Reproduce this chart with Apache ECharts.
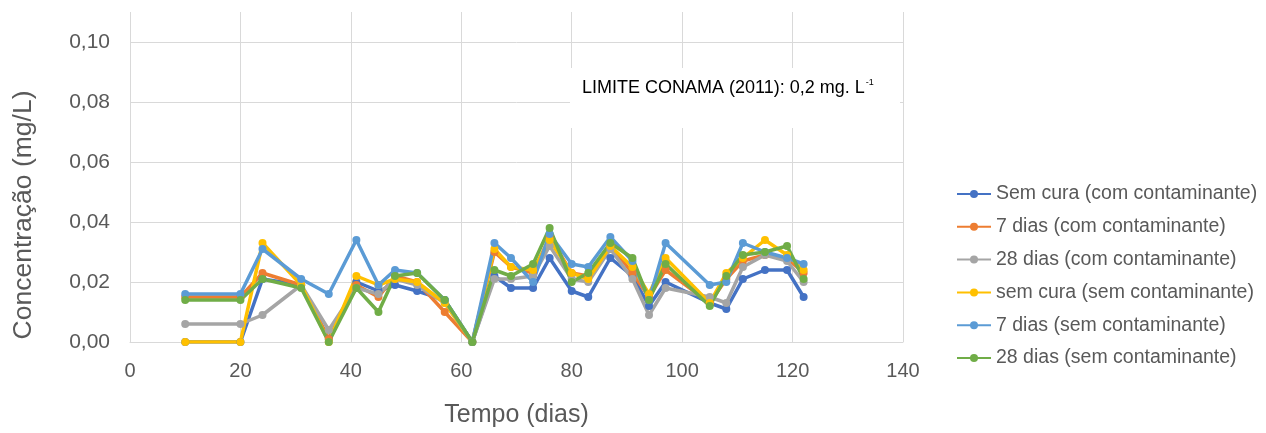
<!DOCTYPE html>
<html>
<head>
<meta charset="utf-8">
<script src="https://cdn.jsdelivr.net/npm/echarts@6/dist/echarts.min.js"></script>
<style>
html,body{margin:0;padding:0;background:#fff;}
#chart{width:1266px;height:433px;}
</style>
</head>
<body>
<div id="chart"></div>
<script>
// Days (x values)
const days = [10,20,24,31,36,41,45,48,52,57,62,66,69,73,76,80,83,87,91,94,97,105,108,111,115,119,122];

// Series values (mg/L)
const semCuraCom   = [0,0,0.021,0.019,0.001,0.020,0.017,0.019,0.017,0.014,0,0.022,0.018,0.018,0.028,0.017,0.015,0.028,0.022,0.012,0.020,0.013,0.011,0.021,0.024,0.024,0.015];
const seteDiasCom  = [0.015,0.015,0.023,0.019,0.001,0.019,0.015,0.022,0.020,0.010,0,0.030,0.025,0.023,0.035,0.023,0.022,0.032,0.023,0.015,0.024,0.013,0.021,0.027,0.029,0.028,0.023];
const vinteOitoCom = [0.006,0.006,0.009,0.019,0.004,0.018,0.016,0.021,0.019,0.013,0,0.021,0.021,0.022,0.032,0.021,0.020,0.031,0.021,0.009,0.018,0.015,0.013,0.025,0.029,0.027,0.020];
const semCuraSem   = [0,0,0.033,0.019,0,0.022,0.019,0.021,0.020,0.013,0,0.031,0.025,0.024,0.034,0.023,0.021,0.032,0.025,0.016,0.028,0.013,0.023,0.028,0.034,0.029,0.024];
const seteDiasSem  = [0.016,0.016,0.031,0.021,0.016,0.034,0.019,0.024,0.023,0.014,0,0.033,0.028,0.020,0.036,0.026,0.025,0.035,0.027,0.014,0.033,0.019,0.020,0.033,0.030,0.028,0.026];
const vinteOitoSem = [0.014,0.014,0.021,0.018,0,0.018,0.010,0.022,0.023,0.014,0,0.024,0.022,0.026,0.038,0.020,0.023,0.033,0.028,0.014,0.026,0.012,0.022,0.029,0.030,0.032,0.021];

const seriesNames = [
  'Sem cura (com contaminante)',
  '7 dias (com contaminante)',
  '28 dias (com contaminante)',
  'sem cura (sem contaminante)',
  '7 dias (sem contaminante)',
  '28 dias (sem contaminante)'
];
const seriesValues = [semCuraCom, seteDiasCom, vinteOitoCom, semCuraSem, seteDiasSem, vinteOitoSem];
const colors = ['#4472C4','#ED7D31','#A5A5A5','#FFC000','#5B9BD5','#70AD47'];

const xTicks = {min: 0, max: 140, interval: 20};
const yTicks = {min: 0, max: 0.11, interval: 0.02};

const xTitle = 'Tempo (dias)';
const yTitle = 'Concentração (mg/L)';
const annotation = 'LIMITE CONAMA (2011): 0,2 mg. L';

const FONT = '"Liberation Sans", Arial, sans-serif';
const chart = echarts.init(document.getElementById('chart'));

const series = seriesNames.map((name, i) => ({
  name: name,
  type: 'line',
  data: days.map((d, j) => [d, seriesValues[i][j]]),
  symbol: 'circle',
  symbolSize: 8,
  showAllSymbol: true,
  lineStyle: {width: 3.5, color: colors[i]},
  itemStyle: {color: colors[i]},
  emphasis: {disabled: true},
  animation: false
}));

chart.setOption({
  animation: false,
  textStyle: {fontFamily: FONT},
  grid: {left: 130, right: 363, top: 12, bottom: 90, containLabel: false},
  xAxis: {
    type: 'value',
    min: xTicks.min, max: xTicks.max, interval: xTicks.interval,
    name: xTitle,
    nameLocation: 'middle',
    nameGap: 61,
    nameTextStyle: {fontSize: 25, color: '#595959', fontFamily: FONT},
    axisLine: {show: true, lineStyle: {color: '#D9D9D9', width: 1}},
    axisTick: {show: false},
    axisLabel: {fontSize: 20, color: '#595959', margin: 19, fontFamily: FONT},
    splitLine: {show: true, lineStyle: {color: '#D9D9D9', width: 1}}
  },
  yAxis: {
    type: 'value',
    min: yTicks.min, max: yTicks.max, interval: yTicks.interval,
    axisLine: {show: false},
    axisTick: {show: false},
    axisLabel: {
      fontSize: 21, color: '#595959', margin: 20, fontFamily: FONT,
      showMaxLabel: false,
      formatter: v => v > 0.105 ? '' : v.toFixed(2).replace('.', ',')
    },
    splitLine: {show: true, showMaxLine: false, lineStyle: {color: '#D9D9D9', width: 1}}
  },
  legend: {
    orient: 'vertical',
    left: 951,
    top: 179,
    itemWidth: 34,
    itemHeight: 10,
    itemGap: 12.8,
    textStyle: {fontSize: 19.5, color: '#595959', fontFamily: FONT, lineHeight: 20},
    data: seriesNames
  },
  graphic: [
    {
      type: 'text',
      x: 24, y: 215,
      rotation: Math.PI / 2,
      style: {
        text: yTitle,
        fontSize: 26.5, fill: '#595959', fontFamily: FONT,
        align: 'center', verticalAlign: 'middle'
      }
    },
    {
      type: 'rect',
      left: 570, top: 68,
      shape: {width: 330, height: 60},
      style: {fill: '#fff'},
      z: 100
    },
    {
      type: 'text',
      left: 582, top: 78,
      z: 101,
      style: {
        text: '{a|' + annotation + '}{b|-1}',
        rich: {
          a: {fontSize: 18, fill: '#000', fontFamily: FONT, lineHeight: 20},
          b: {fontSize: 9, fill: '#000', fontFamily: FONT, verticalAlign: 'top', lineHeight: 20, padding: [0,0,0,1]}
        }
      }
    }
  ],
  series: series
});
</script>
</body>
</html>
